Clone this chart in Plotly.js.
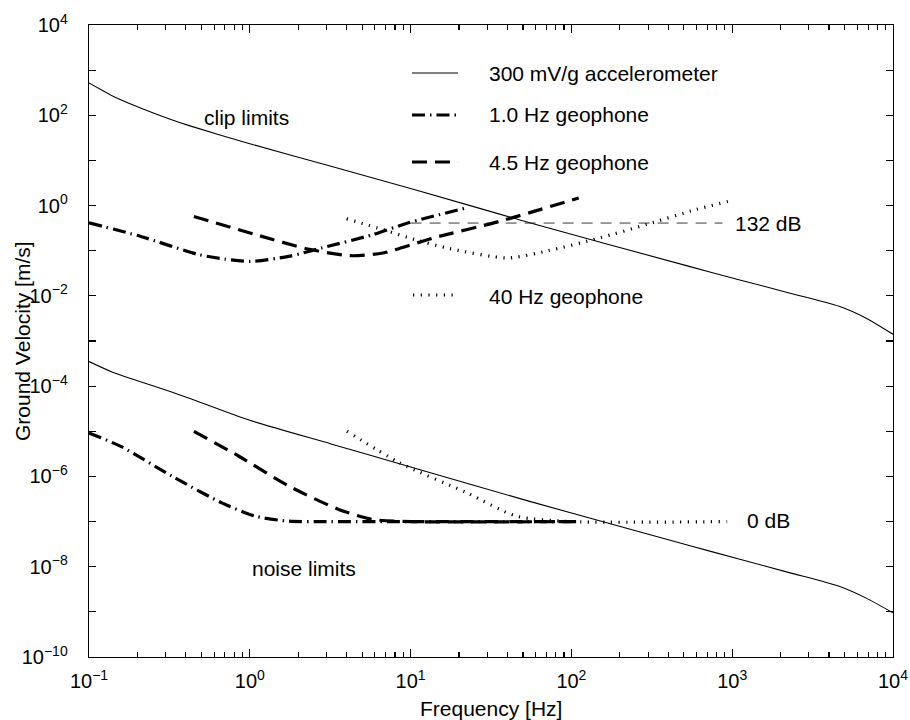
<!DOCTYPE html>
<html><head><meta charset="utf-8">
<script src="https://cdn.plot.ly/plotly-3.0.1.min.js"></script>
<style>html,body{margin:0;padding:0;background:#fff}</style>
</head><body>
<div id="chart" style="width:910px;height:720px"></div>
<script>
// ---- data (frequency in Hz, ground velocity in m/s) ----
const accelFreq  = [0.1, 0.14, 0.2, 0.32, 0.42, 1, 3.2, 10, 55, 540, 1100, 2260, 4620, 6760, 10000];
const accelClip  = [521, 269, 155, 82, 59, 23.4, 7.4, 2.4, 0.416, 0.045, 0.0228, 0.0116, 0.00586, 0.00324, 0.00141];
const accelNoise = [3.5e-4, 2.04e-4, 1.32e-4, 7.6e-5, 5.4e-5, 1.75e-5, 5.25e-6, 1.62e-6, 2.8e-7, 2.95e-8, 1.48e-8, 7.4e-9, 3.68e-9, 2.04e-9, 9.5e-10];

const geo1ClipFreq  = [0.1, 0.21, 0.48, 0.7, 1.0, 1.75, 2.8, 5.8, 9.7, 22];
const geo1Clip      = [0.415, 0.207, 0.082, 0.065, 0.058, 0.075, 0.115, 0.226, 0.415, 0.88];
const geo1NoiseFreq = [0.1, 0.16, 0.33, 0.67, 1.08, 1.75, 3, 107];
const geo1Noise     = [9.2e-6, 4.5e-6, 1.0e-6, 2.6e-7, 1.32e-7, 1.02e-7, 1.0e-7, 1.0e-7];

const geo45ClipFreq  = [0.449, 1.15, 2.3, 4.18, 6.73, 13.8, 35.7, 111];
const geo45Clip      = [0.574, 0.215, 0.109, 0.0776, 0.089, 0.191, 0.447, 1.47];
const geo45NoiseFreq = [0.449, 0.855, 1.75, 3.57, 5.75, 10, 107];
const geo45Noise     = [1.0e-5, 2.8e-6, 6.1e-7, 1.86e-7, 1.12e-7, 1.0e-7, 1.0e-7];

const geo40ClipFreq  = [4.0, 6.8, 11, 17.4, 40, 72, 148, 300, 590, 940];
const geo40Clip      = [0.51, 0.29, 0.17, 0.112, 0.069, 0.1, 0.19, 0.39, 0.81, 1.23];
const geo40NoiseFreq = [4.02, 8.55, 22.2, 45.4, 100, 930];
const geo40Noise     = [1.0e-5, 2.0e-6, 4.4e-7, 1.32e-7, 1.0e-7, 1.0e-7];

const fullScaleFreq = [10, 870];
const fullScale     = [0.41, 0.41];

const legendNames = ['300 mV/g accelerometer', '1.0 Hz geophone', '4.5 Hz geophone', '40 Hz geophone'];
const textLabels  = ['clip limits', 'noise limits', '132 dB', '0 dB'];
const xTickVals = [0.1, 1, 10, 100, 1000, 10000];
const xTickText = ['10<sup>−1</sup>', '10<sup>0</sup>', '10<sup>1</sup>', '10<sup>2</sup>', '10<sup>3</sup>', '10<sup>4</sup>'];
const yTickVals = [1e-10, 1e-8, 1e-6, 1e-4, 1e-2, 1, 1e2, 1e4];
const yTickText = ['10<sup>−10</sup>', '10<sup>−8</sup>', '10<sup>−6</sup>', '10<sup>−4</sup>', '10<sup>−2</sup>', '10<sup>0</sup>', '10<sup>2</sup>', '10<sup>4</sup>'];
const xTitle = 'Frequency [Hz]';
const yTitle = 'Ground Velocity [m/s]';

// ---- styles ----
const FONT = 'Liberation Sans, Arial, Helvetica, sans-serif';
const TXT = 21;
const sAccel = {color:'#000', width:1.1, shape:'spline', smoothing:0.7};
const sG1  = {color:'#000', width:3.2, dash:'13px,5px,1.5px,5px', shape:'spline', smoothing:0.7};
const sG45 = {color:'#000', width:3.2, dash:'15px,8px', shape:'spline', smoothing:0.7};
const sG40 = {color:'#000', width:3.2, dash:'1.2px,6.5px', shape:'spline', smoothing:0.7};
const sFS  = {color:'#222', width:0.9, dash:'11px,8px'};

function tr(x, y, line){ return {x:x, y:y, mode:'lines', line:line, showlegend:false, hoverinfo:'skip', type:'scatter'}; }

const traces = [
  tr(accelFreq, accelClip, sAccel),
  tr(accelFreq, accelNoise, sAccel),
  tr(fullScaleFreq, fullScale, sFS),
  tr(geo40ClipFreq, geo40Clip, sG40),
  tr(geo40NoiseFreq, geo40Noise, sG40),
  tr(geo45ClipFreq, geo45Clip, sG45),
  tr(geo45NoiseFreq, geo45Noise, sG45),
  tr(geo1ClipFreq, geo1Clip, sG1),
  tr(geo1NoiseFreq, geo1Noise, sG1)
];
// invisible trace that carries the unlabeled decade-tick axis
const tickCarrier = tr(accelFreq, accelClip, {color:'rgba(0,0,0,0)', width:0});
tickCarrier.xaxis = 'x2'; tickCarrier.yaxis = 'y2'; tickCarrier.opacity = 0;
traces.push(tickCarrier);

// custom legend (paper coordinates)
const legRows = [
  {y:0.924,  ty:0.924,  x0:0.4017, x1:0.459,  line:sAccel},
  {y:0.8576, ty:0.8576, x0:0.4017, x1:0.459,  line:sG1},
  {y:0.7832, ty:0.7832, x0:0.4017, x1:0.459,  line:sG45},
  {y:0.5728, ty:0.5700, x0:0.403,  x1:0.4527, line:sG40}
];
const shapes = legRows.map(r => ({type:'line', xref:'paper', yref:'paper', x0:r.x0, x1:r.x1, y0:r.y, y1:r.y,
  line:{color:r.line.color, width:r.line.width, dash:r.line.dash}}));
const tf = {family:FONT, size:TXT, color:'#000'};
const annotations = legRows.map((r, i) => ({xref:'paper', yref:'paper', x:0.495, y:r.ty, xanchor:'left', yanchor:'middle', text:legendNames[i], showarrow:false, font:tf}));
annotations.push(
  {xref:'paper', yref:'paper', x:0.1405, y:0.854,  xanchor:'left', yanchor:'middle', text:textLabels[0], showarrow:false, font:tf},
  {xref:'paper', yref:'paper', x:0.2002, y:0.1408, xanchor:'left', yanchor:'middle', text:textLabels[1], showarrow:false, font:tf},
  {xref:'paper', yref:'paper', x:0.801,  y:0.6867, xanchor:'left', yanchor:'middle', text:textLabels[2], showarrow:false, font:tf},
  {xref:'paper', yref:'paper', x:0.816,  y:0.2152, xanchor:'left', yanchor:'middle', text:textLabels[3], showarrow:false, font:tf},
  // axis titles
  {xref:'paper', yref:'paper', x:0.5, y:-0.0822, xanchor:'center', yanchor:'middle', text:xTitle, showarrow:false, font:tf},
  {xref:'paper', yref:'paper', x:-0.0833, y:0.5, xanchor:'center', yanchor:'middle', textangle:-90, text:yTitle, showarrow:false, font:tf}
);

const tickFont = {family:FONT, size:20, color:'#000'};
const layout = {
  width:910, height:720,
  margin:{l:89, r:17, t:25, b:63, pad:0},
  paper_bgcolor:'#fff', plot_bgcolor:'#fff',
  font:{family:FONT, size:20, color:'#000'},
  showlegend:false,
  xaxis:{
    type:'log', range:[-1, 4], autorange:false,
    tickmode:'array', tickvals:xTickVals, ticktext:xTickText,
    ticks:'inside', ticklen:8, tickwidth:1.2, tickcolor:'#000',
    minor:{dtick:'D1', ticks:'inside', ticklen:5, tickwidth:1.1, tickcolor:'#000', showgrid:false},
    showgrid:false, zeroline:false,
    showline:true, linecolor:'#000', linewidth:1.3, mirror:'ticks',
    ticklabelstandoff:6, tickfont:tickFont, automargin:false
  },
  yaxis:{
    type:'log', range:[-10, 4], autorange:false,
    tickmode:'array', tickvals:yTickVals, ticktext:yTickText,
    ticks:'inside', ticklen:7, tickwidth:1.2, tickcolor:'#000',
    showgrid:false, zeroline:false,
    showline:true, linecolor:'#000', linewidth:1.3, mirror:'ticks',
    ticklabelstandoff:16, tickfont:tickFont, automargin:false
  },
  xaxis2:{
    type:'log', range:[-1, 4], autorange:false, overlaying:'x', anchor:'y2',
    showticklabels:false, ticks:'',
    showgrid:false, zeroline:false, showline:false, automargin:false
  },
  yaxis2:{
    type:'log', range:[-10, 4], autorange:false, overlaying:'y', anchor:'x2',
    tickmode:'linear', tick0:0, dtick:1, showticklabels:false,
    ticks:'inside', ticklen:7, tickwidth:1.2, tickcolor:'#000', mirror:'ticks',
    showgrid:false, zeroline:false, showline:false, automargin:false
  },
  shapes:shapes,
  annotations:annotations
};

Plotly.newPlot('chart', traces, layout, {staticPlot:true, displayModeBar:false});
</script>
</body></html>
